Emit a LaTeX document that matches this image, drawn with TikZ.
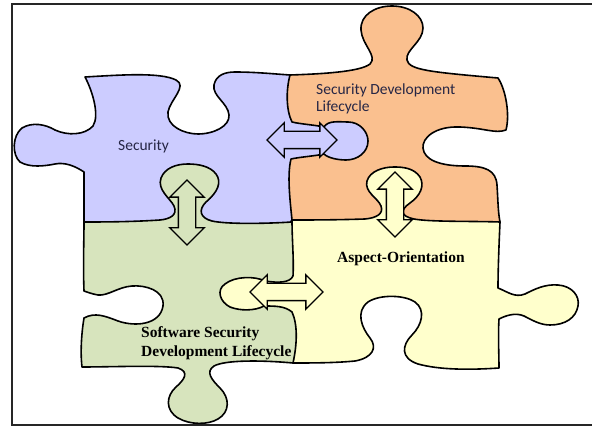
\documentclass[tikz,border=0pt]{standalone}
\usepackage{fontspec}
\setmainfont{Liberation Serif}
\newfontfamily\labelsans{Carlito}
\usetikzlibrary{shapes.arrows}
\definecolor{PZ-blue}{HTML}{CCCCFF}
\definecolor{PZ-orange}{HTML}{FAC08F}
\definecolor{PZ-green}{HTML}{D7E4BD}
\definecolor{PZ-yellow}{HTML}{FFFFCC}
\definecolor{PZ-text}{HTML}{262645}

\begin{document}
\begin{tikzpicture}[x=1pt,y=-1pt,
  piece/.style={draw=black,line width=1.6pt,line join=round},
  linkarrow/.style={double arrow,draw=black,line width=1.4pt,double arrow head extend=8.5pt,inner xsep=0pt,inner ysep=8pt},
  sanslabel/.style={anchor=base west,inner sep=0pt,align=left,text=PZ-text,font=\labelsans\fontsize{15.5}{17}\selectfont},
  seriflabel/.style={anchor=base west,inner sep=0pt,align=left,font=\bfseries\fontsize{15.5}{19}\selectfont}]
  \useasboundingbox (0,0) rectangle (592,427);
  \draw[line width=1.8pt,black!85] (592,4) -- (12,4) -- (12,425) -- (592,425);

  % orange piece, its left and lower sides lie under the others
  \draw[piece,fill=PZ-orange] (280,86) -- (290,75)
    .. controls (320,74) and (360,72) .. (370,64)
    .. controls (378,56) and (362,45) .. (361,30)
    .. controls (360,15) and (375,6) .. (392,6)
    .. controls (410,6) and (423,16) .. (423,28)
    .. controls (423,42) and (405,50) .. (407,60)
    .. controls (409,70) and (430,72) .. (498,78)
    .. controls (506,90) and (510,115) .. (506,130)
    .. controls (495,134) and (485,128) .. (460,127)
    .. controls (435,126) and (422,138) .. (423,148)
    .. controls (424,160) and (440,166) .. (465,166)
    .. controls (485,166) and (496,170) .. (497,185)
    .. controls (498,200) and (498,212) .. (500,222)
    -- (490,240) -- (280,240) -- cycle;

  % blue piece
  \draw[piece,fill=PZ-blue] (85,77)
    .. controls (120,75) and (160,72) .. (176,80)
    .. controls (188,86) and (170,100) .. (168,112)
    .. controls (166,126) and (184,134) .. (198,134)
    .. controls (214,134) and (230,126) .. (229,115)
    .. controls (228,103) and (212,96) .. (214,85)
    .. controls (216,75) and (225,72) .. (235,72)
    .. controls (255,72) and (275,74) .. (290,75)
    .. controls (286,90) and (286,110) .. (292,122)
    .. controls (300,124) and (315,125) .. (324,127)
    .. controls (328,120) and (340,122) .. (348,122)
    .. controls (360,122) and (368,132) .. (368,141)
    .. controls (368,152) and (358,160) .. (346,160)
    .. controls (338,160) and (328,158) .. (324,154)
    .. controls (315,156) and (300,157) .. (291,159)
    .. controls (287,175) and (290,200) .. (292,220)
    -- (282,234) -- (95,234) -- (84,222)
    .. controls (84,200) and (84,185) .. (84,172)
    .. controls (75,166) and (65,162) .. (55,164)
    .. controls (45,166) and (30,168) .. (20,162)
    .. controls (12,155) and (12,136) .. (22,128)
    .. controls (32,122) and (45,124) .. (55,130)
    .. controls (68,136) and (85,135) .. (93,126)
    .. controls (100,115) and (92,90) .. (85,77) -- cycle;

  % green piece
  \draw[piece,fill=PZ-green] (84,222)
    .. controls (100,222) and (130,222) .. (160,220)
    .. controls (170,219) and (178,215) .. (174,206)
    .. controls (170,198) and (157,190) .. (161,178)
    .. controls (165,168) and (176,164) .. (188,164)
    .. controls (198,164) and (210,166) .. (216,174)
    .. controls (222,182) and (218,192) .. (206,202)
    .. controls (198,210) and (200,218) .. (212,221)
    .. controls (225,224) and (260,224) .. (292,222)
    -- (306,228) -- (306,358) -- (293,363)
    .. controls (260,360) and (225,360) .. (214,366)
    .. controls (205,372) and (212,380) .. (220,388)
    .. controls (230,398) and (230,412) .. (218,419)
    .. controls (208,425) and (190,425) .. (178,418)
    .. controls (165,410) and (166,396) .. (176,387)
    .. controls (184,380) and (190,372) .. (178,368)
    .. controls (160,365) and (110,367) .. (82,367)
    .. controls (80,350) and (82,330) .. (84,318)
    .. controls (95,312) and (105,316) .. (118,321)
    .. controls (135,327) and (160,325) .. (163,306)
    .. controls (165,290) and (145,285) .. (132,286)
    .. controls (118,287) and (108,296) .. (98,295)
    .. controls (92,294) and (87,292) .. (84,291)
    .. controls (83,265) and (84,240) .. (84,222) -- cycle;

  % yellow piece
  \draw[piece,fill=PZ-yellow] (292,220)
    .. controls (310,220) and (335,220) .. (365,219)
    .. controls (376,218) and (384,214) .. (381,206)
    .. controls (378,198) and (364,192) .. (367,181)
    .. controls (370,171) and (383,167) .. (394,167)
    .. controls (403,167) and (414,168) .. (420,177)
    .. controls (425,186) and (420,196) .. (410,203)
    .. controls (400,210) and (400,216) .. (414,219)
    .. controls (430,222) and (470,221) .. (500,222)
    .. controls (499,245) and (498,270) .. (498,288)
    .. controls (508,292) and (515,298) .. (525,294)
    .. controls (535,289) and (545,284) .. (558,285)
    .. controls (572,286) and (580,296) .. (578,306)
    .. controls (576,318) and (565,325) .. (550,325)
    .. controls (540,325) and (532,320) .. (524,316)
    .. controls (515,312) and (505,316) .. (499,319)
    .. controls (498,335) and (499,355) .. (499,368)
    .. controls (470,370) and (440,370) .. (418,364)
    .. controls (400,358) and (402,345) .. (412,335)
    .. controls (422,325) and (426,310) .. (415,302)
    .. controls (405,295) and (380,294) .. (368,302)
    .. controls (355,312) and (362,328) .. (370,338)
    .. controls (378,348) and (372,358) .. (355,361)
    .. controls (335,363) and (310,363) .. (293,363)
    .. controls (297,345) and (298,325) .. (292,312)
    .. controls (285,306) and (275,306) .. (264,306)
    .. controls (255,311) and (240,311) .. (230,307)
    .. controls (220,302) and (216,290) .. (225,284)
    .. controls (235,276) and (255,276) .. (265,281)
    .. controls (278,283) and (290,283) .. (293,276)
    .. controls (294,260) and (292,240) .. (292,220) -- cycle;

  \node[linkarrow,fill=PZ-blue,minimum height=70pt] (SecSDL) at (302,140) {};
  \node[linkarrow,fill=PZ-green,minimum height=65pt,rotate=90] (SecSSDL) at (187,212.5) {};
  \node[linkarrow,fill=PZ-yellow,minimum height=65pt,rotate=90] (SDLAO) at (395,204.5) {};
  \node[linkarrow,fill=PZ-yellow,minimum height=73pt] (SSDLAO) at (286.5,292) {};

  \node[sanslabel] (Sec) at (118,151) {Security};
  \node[sanslabel] (SDL) at (316,112) {Security Development\\Lifecycle};
  \node[seriflabel] (AO) at (337,263) {Aspect-Orientation};
  \node[seriflabel] (SSDL) at (141,357) {Software Security\\Development Lifecycle};
\end{tikzpicture}
\end{document}
